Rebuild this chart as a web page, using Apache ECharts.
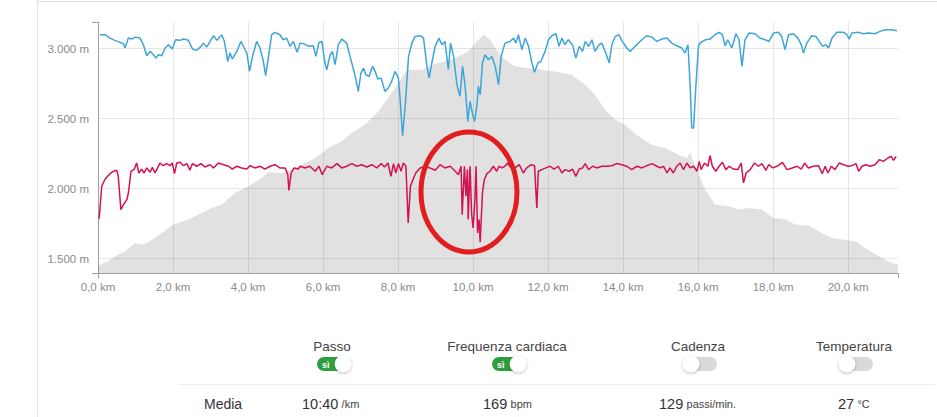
<!DOCTYPE html>
<html>
<head>
<meta charset="utf-8">
<script src="https://cdn.jsdelivr.net/npm/echarts@6/dist/echarts.min.js"></script>
<style>
html,body{margin:0;padding:0;background:#fff;}
#c{width:937px;height:417px;}
</style>
</head>
<body>
<div id="c"></div>
<script>
// ---- data (axis units: km / m) ----
const xTicks = [0, 2, 4, 6, 8, 10, 12, 14, 16, 18, 20];
const yTicks = [1500, 2000, 2500, 3000];
const xMax = 21.33;
const yMin = 1397;
const yMax = 3191;

const elevKm = [0.00,0.27,0.45,0.72,0.99,1.16,1.34,1.70,2.01,2.41,2.76,3.03,3.30,3.65,4.01,4.36,4.54,4.90,5.25,5.79,6.14,6.50,6.76,7.12,7.47,7.83,8.10,8.23,8.63,8.90,9.16,9.52,9.87,10.10,10.28,10.45,10.63,10.85,11.12,11.47,11.83,12.19,12.63,12.99,13.25,13.52,13.79,14.05,14.41,14.76,15.12,15.47,15.70,15.79,15.89,16.19,16.45,16.81,17.08,17.34,17.70,18.01,18.32,18.59,18.94,19.30,19.57,19.83,20.19,20.45,20.81,21.07,21.33];
const elevM = [1450,1481,1516,1552,1612,1600,1617,1683,1743,1779,1826,1862,1886,1969,2017,2076,2117,2112,2148,2219,2291,2338,2398,2457,2552,2683,2790,2850,2850,2886,2902,2933,2981,3052,3100,3064,2993,2921,2874,2862,2850,2838,2814,2743,2671,2564,2493,2457,2374,2314,2291,2243,2219,2260,2183,1993,1886,1874,1850,1862,1850,1791,1779,1743,1736,1683,1648,1636,1624,1576,1517,1481,1455];

const paceKm = [0.05,0.19,0.32,0.45,0.59,0.68,0.72,0.81,0.90,0.99,1.12,1.21,1.30,1.39,1.48,1.54,1.61,1.70,1.79,1.88,1.98,2.07,2.19,2.28,2.41,2.52,2.63,2.75,2.81,2.90,2.99,3.08,3.17,3.30,3.37,3.46,3.52,3.58,3.70,3.81,3.90,3.97,4.04,4.12,4.23,4.32,4.41,4.47,4.54,4.63,4.72,4.85,4.94,5.03,5.12,5.21,5.31,5.39,5.48,5.61,5.74,5.81,5.89,5.97,6.05,6.10,6.19,6.25,6.32,6.41,6.50,6.63,6.72,6.85,6.94,7.01,7.08,7.14,7.23,7.32,7.39,7.46,7.55,7.65,7.74,7.83,7.92,8.01,8.05,8.12,8.19,8.28,8.37,8.45,8.59,8.68,8.77,8.83,8.90,8.99,9.09,9.17,9.25,9.34,9.40,9.48,9.57,9.65,9.72,9.79,9.86,9.92,9.98,10.04,10.10,10.14,10.19,10.25,10.32,10.41,10.50,10.59,10.68,10.75,10.85,10.99,11.08,11.14,11.21,11.30,11.39,11.48,11.57,11.64,11.73,11.81,11.92,12.01,12.10,12.21,12.29,12.37,12.45,12.54,12.65,12.74,12.83,12.92,12.99,13.08,13.17,13.25,13.36,13.43,13.54,13.63,13.70,13.79,13.89,13.98,14.10,14.19,14.32,14.50,14.63,14.77,14.90,15.03,15.17,15.30,15.43,15.57,15.65,15.73,15.79,15.83,15.88,15.94,16.01,16.05,16.19,16.32,16.45,16.56,16.65,16.72,16.79,16.90,17.01,17.09,17.17,17.25,17.36,17.52,17.65,17.79,17.89,18.01,18.14,18.23,18.32,18.41,18.54,18.66,18.75,18.81,18.90,19.03,19.14,19.23,19.32,19.41,19.48,19.57,19.70,19.88,19.97,20.03,20.10,20.28,20.41,20.54,20.72,20.85,20.99,21.17,21.30];
const paceM = [3100,3100,3076,3060,3045,3036,3005,3076,3069,3083,3076,3029,2950,2981,2957,2933,2957,2950,3005,3029,2998,3064,3060,3069,3060,2998,2988,3017,3040,3012,3052,3093,3060,3100,3052,2910,2969,2926,2981,3052,3005,2969,2838,2945,3052,3005,2910,2807,2933,3100,3117,3100,3064,3076,3017,3052,2975,3040,3036,3017,3021,2945,3045,3052,2898,2850,2957,2981,2886,3029,3069,3040,2945,2814,2695,2826,2862,2814,2802,2874,2838,2783,2790,2695,2719,2767,2838,2790,2660,2379,2588,2945,3040,3088,3093,3076,2874,2790,2898,3017,3076,3029,3052,2850,3040,2945,2743,2660,2874,2731,2481,2624,2541,2481,2588,2731,2671,2898,2957,2921,2945,2874,2743,2945,3040,3052,3076,3040,3100,2993,3076,3017,2898,2831,2898,2910,2981,3064,3093,3107,3017,3076,3029,3064,3029,2933,3017,2981,3052,3017,3064,2981,3029,3040,2969,2898,3029,3088,3100,3052,3005,2981,3017,3064,3093,3083,3052,3069,3076,3040,3021,3005,2969,3029,2731,2433,2433,2731,3017,3040,3064,3069,3100,3117,3100,3021,3064,3005,3107,3064,2874,3064,3112,3107,3076,3064,3052,3112,3117,3088,2993,3100,3107,3076,3029,2969,3040,3093,3088,3052,3017,3029,3005,3076,3117,3117,3100,3069,3112,3117,3107,3112,3107,3124,3136,3136,3129];

const hrKm = [0.03,0.10,0.19,0.32,0.41,0.50,0.54,0.61,0.68,0.77,0.81,0.88,0.97,1.03,1.09,1.16,1.23,1.30,1.39,1.45,1.52,1.59,1.65,1.74,1.83,1.92,1.98,2.04,2.10,2.19,2.28,2.37,2.45,2.52,2.63,2.75,2.85,2.99,3.08,3.21,3.35,3.48,3.58,3.70,3.83,3.97,4.05,4.19,4.32,4.45,4.59,4.72,4.85,4.99,5.06,5.09,5.15,5.23,5.34,5.39,5.52,5.65,5.79,5.89,5.98,6.10,6.23,6.37,6.50,6.63,6.77,6.90,7.03,7.17,7.30,7.43,7.55,7.64,7.73,7.81,7.88,7.94,8.01,8.08,8.14,8.21,8.27,8.33,8.38,8.47,8.59,8.72,8.85,8.99,9.12,9.25,9.39,9.50,9.61,9.68,9.71,9.77,9.81,9.85,9.87,9.92,9.96,10.00,10.05,10.08,10.12,10.16,10.19,10.25,10.30,10.37,10.45,10.54,10.63,10.69,10.77,10.85,10.92,11.01,11.12,11.23,11.34,11.43,11.55,11.64,11.67,11.70,11.74,11.83,11.94,12.05,12.16,12.27,12.37,12.45,12.56,12.65,12.74,12.83,12.92,12.99,13.08,13.19,13.30,13.43,13.57,13.70,13.83,13.97,14.10,14.23,14.37,14.50,14.63,14.77,14.90,14.99,15.08,15.17,15.25,15.34,15.43,15.52,15.61,15.70,15.79,15.88,15.97,16.03,16.08,16.17,16.26,16.32,16.38,16.47,16.56,16.65,16.74,16.83,16.94,17.06,17.15,17.21,17.28,17.39,17.50,17.61,17.70,17.81,17.88,17.99,18.13,18.25,18.37,18.51,18.64,18.75,18.84,18.94,19.07,19.21,19.31,19.39,19.46,19.55,19.65,19.76,19.88,20.00,20.10,20.21,20.28,20.37,20.47,20.59,20.72,20.83,20.94,21.06,21.15,21.21,21.28];
const hrM = [1784,2017,2069,2107,2124,2131,2088,1850,1886,1921,1969,2124,2140,2183,2112,2140,2112,2148,2117,2152,2112,2148,2183,2164,2179,2164,2183,2107,2183,2188,2164,2179,2131,2179,2160,2179,2155,2171,2148,2183,2171,2160,2140,2160,2148,2140,2164,2148,2160,2140,2160,2171,2148,2148,2100,1988,2112,2148,2140,2160,2148,2160,2124,2160,2100,2160,2148,2179,2148,2160,2179,2160,2171,2155,2171,2148,2179,2155,2183,2088,2179,2112,2179,2124,2183,2160,1755,2017,2052,2112,2148,2160,2148,2131,2171,2148,2160,2131,2100,2160,1814,2160,1945,2136,1779,2160,1826,1719,1921,2160,1683,1779,1617,1969,2064,2107,2124,2160,2124,2160,2148,2160,2183,2148,2148,2171,2112,2148,2171,2164,2005,1862,2124,2136,2148,2160,2140,2160,2112,2136,2124,2140,2088,2140,2148,2179,2136,2160,2148,2160,2160,2164,2179,2171,2160,2136,2160,2148,2164,2179,2160,2148,2160,2112,2148,2112,2160,2183,2136,2183,2148,2160,2124,2195,2136,2183,2160,2236,2160,2124,2160,2188,2136,2160,2140,2136,2183,2041,2112,2136,2183,2160,2179,2131,2171,2148,2164,2188,2136,2148,2160,2140,2183,2148,2160,2164,2107,2160,2112,2160,2136,2183,2171,2160,2164,2179,2124,2160,2171,2160,2171,2207,2195,2219,2231,2202,2231];

const toggleLabels = ['Passo', 'Frequenza cardiaca', 'Cadenza', 'Temperatura'];
const toggleOn = [true, true, false, false];
const statRowLabel = 'Media';
const statValues = ['10:40', '169', '129', '27'];
const statUnits = ['/km', 'bpm', 'passi/min.', '°C'];

// ---- layout helpers ----
const zip = (a, b) => a.map((v, i) => [v, b[i]]);
const fmtX = v => v.toFixed(1).replace('.', ',') + ' km';
const fmtY = v => (v / 1000).toFixed(3) + ' m';
const FONT = '"Liberation Sans", Arial, sans-serif';

const colCenters = [332, 507, 698, 854];
const statX = [302, 483, 659, 838];

const graphics = [];
// page frame lines
graphics.push({type:'line', shape:{x1:37.5,y1:0,x2:37.5,y2:417}, style:{stroke:'#e3e3e3', lineWidth:1}, silent:true});
graphics.push({type:'line', shape:{x1:37,y1:1.5,x2:937,y2:1.5}, style:{stroke:'#e3e3e3', lineWidth:1}, silent:true});
// annotation circle
graphics.push({type:'ellipse', shape:{cx:469, cy:192, rx:48, ry:60}, style:{fill:'none', stroke:'#e11d1d', lineWidth:5}, z:100});
// toggles
toggleLabels.forEach((lab, i) => {
  const cx = colCenters[i];
  graphics.push({type:'text', x:cx, y:346, style:{text:lab, font:'13.5px ' + FONT, fill:'#444', align:'center', verticalAlign:'middle'}});
  const px = cx - 15, py = 357;
  if (toggleOn[i]) {
    graphics.push({type:'rect', shape:{x:px, y:py, width:34, height:14, r:7}, style:{fill:'#2f9e3f'}});
    graphics.push({type:'text', x:px + 5, y:py + 7.5, style:{text:'sì', font:'bold 9px ' + FONT, fill:'#fff', verticalAlign:'middle'}});
    graphics.push({type:'circle', shape:{cx:px + 26, cy:py + 7, r:8.3}, style:{fill:'#fff', shadowBlur:3, shadowColor:'rgba(0,0,0,0.3)', shadowOffsetY:1}});
  } else {
    graphics.push({type:'rect', shape:{x:px, y:py, width:34, height:14, r:7}, style:{fill:'#d9d9d9'}});
    graphics.push({type:'circle', shape:{cx:px + 8, cy:py + 7, r:8.3}, style:{fill:'#fff', shadowBlur:3, shadowColor:'rgba(0,0,0,0.3)', shadowOffsetY:1}});
  }
});
// separator
graphics.push({type:'line', shape:{x1:178,y1:384.5,x2:935,y2:384.5}, style:{stroke:'#ececec', lineWidth:1}});
// stats row
graphics.push({type:'text', x:204, y:404, style:{text:statRowLabel, font:'14px ' + FONT, fill:'#333', verticalAlign:'middle'}});
statValues.forEach((v, i) => {
  graphics.push({type:'text', x:statX[i], y:404, style:{
    text:'{a|' + v + '} {b|' + statUnits[i] + '}', verticalAlign:'middle',
    rich:{a:{font:'14.5px ' + FONT, fill:'#333'}, b:{font:'11px ' + FONT, fill:'#444'}}
  }});
});

const chart = echarts.init(document.getElementById('c'), null, {renderer:'svg'});
chart.setOption({
  animation: false,
  backgroundColor: '#fff',
  grid: {left: 98, right: 39, top: 22, bottom: 144},
  xAxis: [{
    type: 'value', min: 0, max: xMax,
    axisLine: {show: true, lineStyle: {color: '#a0a0a0', width: 1}},
    axisTick: {show: false, customValues: xTicks},
    axisLabel: {customValues: xTicks, formatter: fmtX, color: '#8a8a8a', fontSize: 11.5, fontFamily: FONT, margin: 8},
    splitLine: {show: true, lineStyle: {color: '#e6e6e6', width: 1}}
  }, {
    type: 'value', min: 0, max: xMax, position: 'bottom',
    axisLine: {show: false},
    axisTick: {show: true, customValues: [0, xMax], length: 5, lineStyle: {color: '#a0a0a0'}},
    axisLabel: {show: false}, splitLine: {show: false}
  }],
  yAxis: [{
    type: 'value', min: yMin, max: yMax,
    axisLine: {show: true, lineStyle: {color: '#a0a0a0', width: 1}},
    axisTick: {show: false, customValues: yTicks},
    axisLabel: {customValues: yTicks, formatter: fmtY, color: '#8a8a8a', fontSize: 11.5, fontFamily: FONT, margin: 9},
    splitLine: {show: true, lineStyle: {color: '#e6e6e6', width: 1}}
  }, {
    type: 'value', min: yMin, max: yMax, position: 'left',
    axisLine: {show: false},
    axisTick: {show: true, customValues: [yMin, yMax], length: 6, lineStyle: {color: '#a0a0a0'}},
    axisLabel: {show: false}, splitLine: {show: false}
  }],
  series: [{
    name: 'Altitudine', type: 'line', data: zip(elevKm, elevM),
    showSymbol: false, lineStyle: {width: 0}, areaStyle: {color: 'rgba(0,0,0,0.17)', origin: 'start'}, z: 1
  }, {
    name: 'Passo', type: 'line', data: zip(paceKm, paceM),
    showSymbol: false, lineStyle: {width: 1.5, color: '#3ea5d8'}, itemStyle: {color: '#3ea5d8'}, z: 2
  }, {
    name: 'Frequenza cardiaca', type: 'line', data: zip(hrKm, hrM),
    showSymbol: false, lineStyle: {width: 1.5, color: '#d3124f'}, itemStyle: {color: '#d3124f'}, z: 3
  }],
  graphic: graphics
});
</script>
</body>
</html>
